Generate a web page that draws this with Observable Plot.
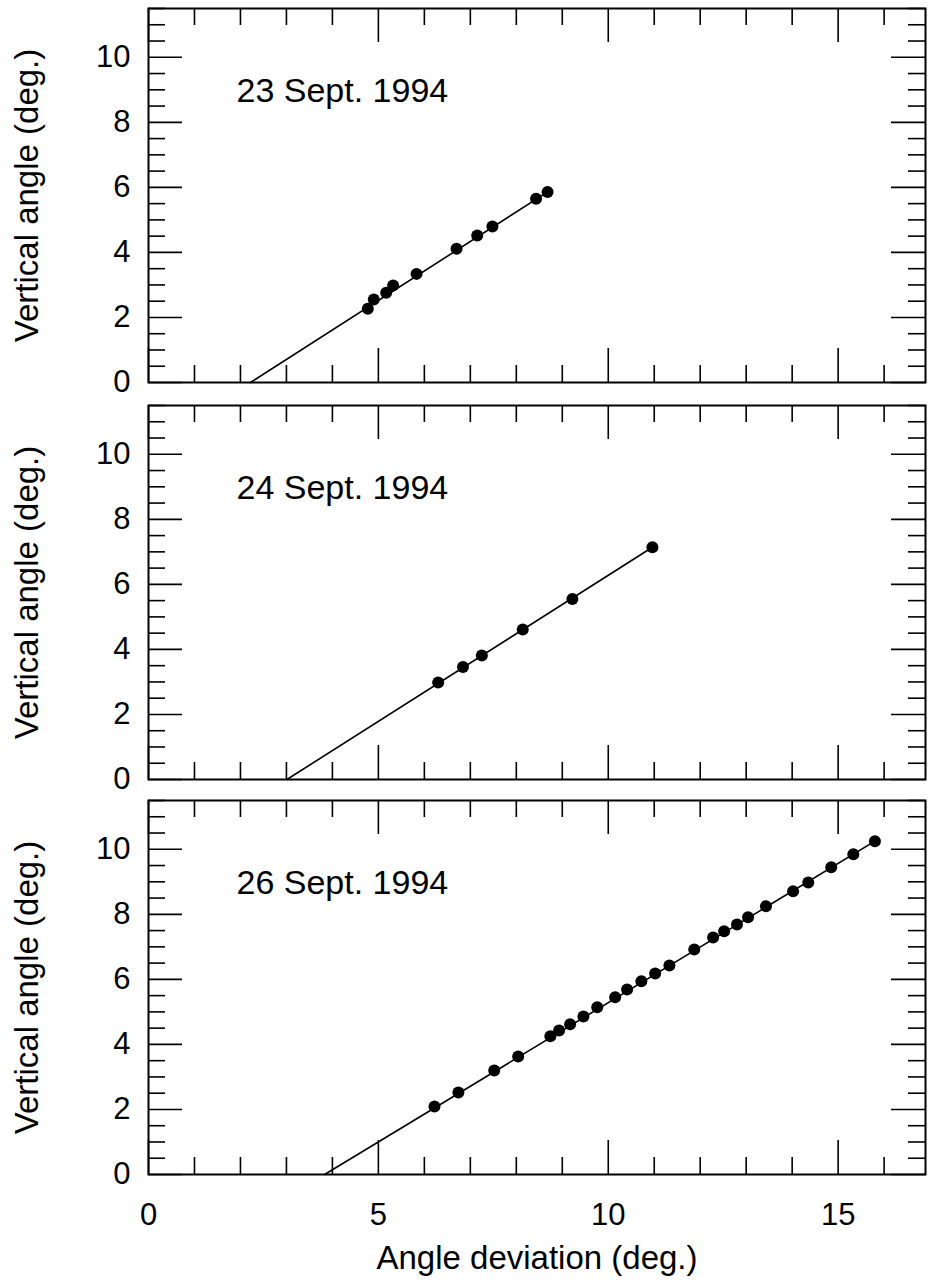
<!DOCTYPE html>
<html>
<head>
<meta charset="utf-8">
<script src="https://cdn.jsdelivr.net/npm/d3@7"></script>
<script src="https://cdn.jsdelivr.net/npm/@observablehq/plot@0.6"></script>
<style>
  html, body { margin: 0; padding: 0; background: #fff; }
  #chart svg { display: block; }
</style>
</head>
<body>
<div id="chart"></div>
<script>
// ---- data ----
const dates = ["23 Sept. 1994", "24 Sept. 1994", "26 Sept. 1994"];

const x23 = [4.77, 4.90, 5.17, 5.32, 5.83, 6.70, 7.15, 7.48, 8.43, 8.68];
const y23 = [2.27, 2.55, 2.76, 2.98, 3.34, 4.11, 4.52, 4.80, 5.65, 5.86];
const fit23X = [2.22, 8.68];
const fit23Y = [0, 5.86];

const x24 = [6.30, 6.84, 7.25, 8.14, 9.22, 10.96];
const y24 = [2.98, 3.46, 3.81, 4.61, 5.55, 7.14];
const fit24X = [3.01, 10.96];
const fit24Y = [0, 7.14];

const x26 = [6.22, 6.74, 7.52, 8.04, 8.74, 8.93, 9.17, 9.46, 9.76, 10.15, 10.41, 10.72, 11.02,
             11.33, 11.87, 12.28, 12.52, 12.80, 13.04, 13.43, 14.02, 14.35, 14.85, 15.33, 15.80];
const y26 = [2.09, 2.52, 3.20, 3.63, 4.25, 4.43, 4.62, 4.86, 5.14, 5.45, 5.69, 5.94, 6.18,
             6.43, 6.92, 7.29, 7.48, 7.69, 7.91, 8.25, 8.71, 8.98, 9.45, 9.85, 10.25];
const fit26X = [3.83, 15.80];
const fit26Y = [0, 10.25];

const xTickLabels = [0, 5, 10, 15];
const xMinorTicks = [1, 2, 3, 4, 6, 7, 8, 9, 11, 12, 13, 14, 16];
const yTickLabels = [0, 2, 4, 6, 8, 10];
const yMinorTicks = [0.5, 1, 1.5, 2.5, 3, 3.5, 4.5, 5, 5.5, 6.5, 7, 7.5, 8.5, 9, 9.5, 10.5, 11, 11.5];

const xLabel = "Angle deviation (deg.)";
const yLabel = "Vertical angle (deg.)";

// ---- layout ----
const W = 929, ML = 148, MR = 4;
const FH = 374;               // frame height
const FW = W - ML - MR;       // frame width
const MAJ = 34, MIN = 17;     // tick lengths
const FONT = "'Liberation Sans', Arial, Helvetica, sans-serif";

function panel({xs, ys, fx, fy, date, mt, mb, bottomAxis}) {
  const height = mt + FH + mb;
  const marks = [
    // inward ticks, bottom & top
    Plot.tickX(xTickLabels, {x: d => d, insetTop: FH - MAJ, strokeWidth: 1.6}),
    Plot.tickX(xTickLabels, {x: d => d, insetBottom: FH - MAJ, strokeWidth: 1.6}),
    Plot.tickX(xMinorTicks, {x: d => d, insetTop: FH - MIN, strokeWidth: 1.6}),
    Plot.tickX(xMinorTicks, {x: d => d, insetBottom: FH - MIN, strokeWidth: 1.6}),
    // inward ticks, left & right
    Plot.tickY(yTickLabels, {y: d => d, insetRight: FW - MAJ, strokeWidth: 1.6}),
    Plot.tickY(yTickLabels, {y: d => d, insetLeft: FW - MAJ, strokeWidth: 1.6}),
    Plot.tickY(yMinorTicks, {y: d => d, insetRight: FW - MIN, strokeWidth: 1.6}),
    Plot.tickY(yMinorTicks, {y: d => d, insetLeft: FW - MIN, strokeWidth: 1.6}),
    Plot.frame({stroke: "black", strokeWidth: 2}),
    Plot.axisY(yTickLabels, {tickSize: 0, tickPadding: 18, fontSize: 31, label: null, fill: "black"}),
    Plot.text([yLabel], {frameAnchor: "left", dx: -121, rotate: -90, textAnchor: "middle", lineAnchor: "middle", fontSize: 33, fill: "black"}),
    Plot.text([date], {frameAnchor: "top-left", dx: 88, dy: 83, textAnchor: "start", lineAnchor: "middle", fontSize: 34, fill: "black"}),
    Plot.line(fx.map((d, i) => i), {x: i => fx[i], y: i => fy[i], stroke: "black", strokeWidth: 1.6}),
    Plot.dot(xs.map((d, i) => i), {x: i => xs[i], y: i => ys[i], r: 6, fill: "black", stroke: "none"})
  ];
  if (bottomAxis) {
    marks.push(Plot.axisX(xTickLabels, {anchor: "bottom", tickSize: 0, tickPadding: 28, fontSize: 31, label: null, fill: "black"}));
    marks.push(Plot.text([xLabel], {frameAnchor: "bottom", dy: 84, fontSize: 33, textAnchor: "middle", lineAnchor: "middle", fill: "black"}));
  }
  return Plot.plot({
    width: W,
    height,
    marginLeft: ML,
    marginRight: MR,
    marginTop: mt,
    marginBottom: mb,
    x: {domain: [0, 16.9], axis: null},
    y: {domain: [0, 11.5], axis: null},
    style: {fontFamily: FONT, color: "black", background: "white", overflow: "visible"},
    marks
  });
}

const chart = document.getElementById("chart");
chart.append(panel({xs: x23, ys: y23, fx: fit23X, fy: fit23Y, date: dates[0], mt: 8, mb: 12, bottomAxis: false}));
chart.append(panel({xs: x24, ys: y24, fx: fit24X, fy: fit24Y, date: dates[1], mt: 11, mb: 10, bottomAxis: false}));
chart.append(panel({xs: x26, ys: y26, fx: fit26X, fy: fit26Y, date: dates[2], mt: 11, mb: 109, bottomAxis: true}));
</script>
</body>
</html>
